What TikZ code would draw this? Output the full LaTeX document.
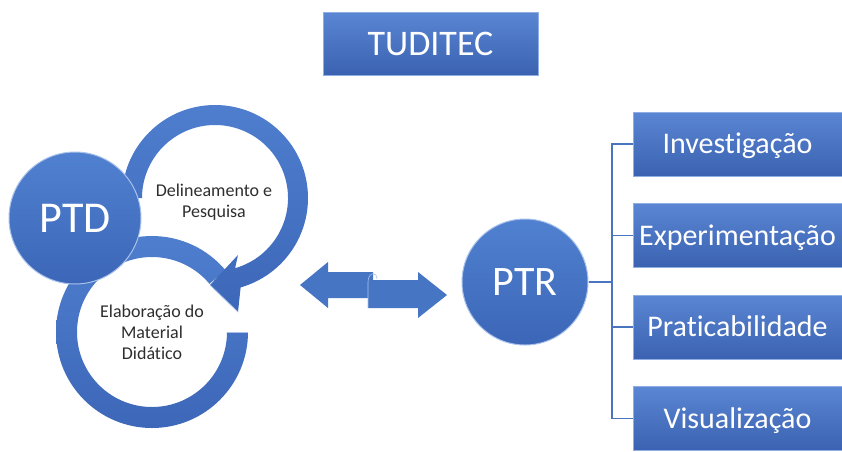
\documentclass[tikz,border=0pt]{standalone}
\usepackage{fontspec}
\setmainfont{Carlito}[RawFeature={-liga;-clig}]
\usetikzlibrary{calc}
\definecolor{boxtop}{HTML}{5A86D3}
\definecolor{boxbot}{HTML}{3A62B0}
\definecolor{boxedge}{HTML}{8FAEE3}
\definecolor{balltop}{HTML}{5081D0}
\definecolor{ballbot}{HTML}{3C66B7}
\definecolor{rim}{HTML}{A9C2EC}
\definecolor{ringtop}{HTML}{4F7ECE}
\definecolor{ringbot}{HTML}{3D67B8}
\definecolor{connblue}{HTML}{4A74C0}
\definecolor{ringtxt}{HTML}{2E2E2E}
\definecolor{arrblue}{HTML}{4675C4}
\begin{document}
\begin{tikzpicture}[x=1pt,y=-1pt,
  boxstyle/.style={rectangle, draw=boxedge, line width=0.6pt, top color=boxtop, bottom color=boxbot,
    text=white, minimum width=209pt, minimum height=64pt, inner sep=0pt,
    font=\fontsize{30}{36}\selectfont, text height=19.5pt, text depth=0pt},
  ballstyle/.style={circle, top color=balltop, bottom color=ballbot, draw=rim, line width=1pt,
    text=white, inner sep=0pt},
  ringshade/.style={top color=ringtop, bottom color=ringbot},
  conn/.style={draw=connblue, line width=1.3pt},
  ringtext/.style={text=ringtxt, align=center, font=\fontsize{18}{21}\selectfont, inner sep=0pt},
  arrshape/.style={fill=arrblue}
]
\useasboundingbox (0,0) rectangle (842,451);

% title
\node[rectangle, draw=boxedge, line width=0.6pt, top color=boxtop, bottom color=boxbot, text=white,
  minimum width=215pt, minimum height=63pt, inner sep=0pt,
  font=\fontsize{36}{40}\selectfont, text height=23pt, text depth=0pt] (title) at (430.5,43.5) {TUDITEC};

% ring centres
\coordinate (c1) at (215,198);
\coordinate (c2) at (152,332);

% bottom ring (Elaboracao)
\path[ringshade] ([shift={(0:96)}]c2) arc[start angle=0, end angle=320, radius=96]
  -- ([shift={(320:75)}]c2) arc[start angle=320, end angle=0, radius=75] -- cycle;
\draw[rim, line width=0.8pt] ([shift={(0:75)}]c2) -- ([shift={(0:96)}]c2);

% top ring (Delineamento) with arrow head
\path[ringshade] ([shift={(180:93)}]c1) arc[start angle=180, end angle=434, radius=93]
  -- (238,312) -- (210,285) -- (238,255)
  -- ([shift={(434:73)}]c1) arc[start angle=434, end angle=180, radius=73] -- cycle;
\draw[rim, line width=0.8pt] (210,285) -- (238,312);

% PTD ball
\node[ballstyle, minimum size=132pt, font=\fontsize{44}{48}\selectfont, text height=28pt, text depth=0pt]
  (ptd) at (75,218) {PTD};

% ring texts
\node[ringtext] (dp) at (214,202) {Delineamento e\\Pesquisa};
\node[ringtext] (em) at (152,332) {Elaboração do\\Material\\Didático};

% double arrow
\path[arrshape] (300,285) -- (328,262) -- (328,272) -- (373,272) -- (373,298) -- (328,298) -- (328,308) -- cycle;
\path[arrshape] (368,280) -- (418,280) -- (418,272) -- (447,295) -- (418,318) -- (418,308) -- (368,308) -- cycle;
\draw[rim, line width=0.6pt] (368,308) -- (368,282) .. controls (368,272) and (377,271) .. (377,279);

% PTR ball
\node[ballstyle, minimum size=126pt, font=\fontsize{42}{46}\selectfont, text height=27pt, text depth=0pt]
  (ptr) at (525,282) {PTR};

% right boxes
\node[boxstyle] (b1) at (737.5,144) {Investigação};
\node[boxstyle] (b2) at (737.5,235.5) {Experimentação};
\node[boxstyle] (b3) at (737.5,327) {Praticabilidade};
\node[boxstyle] (b4) at (737.5,418.5) {Visualização};

% connectors
\coordinate (tr) at (612,282);
\draw[conn] (ptr.east) -- (tr);
\draw[conn] (tr) |- (b1.west);
\draw[conn] (tr) |- (b2.west);
\draw[conn] (tr) |- (b3.west);
\draw[conn] (tr) |- (b4.west);
\end{tikzpicture}
\end{document}
